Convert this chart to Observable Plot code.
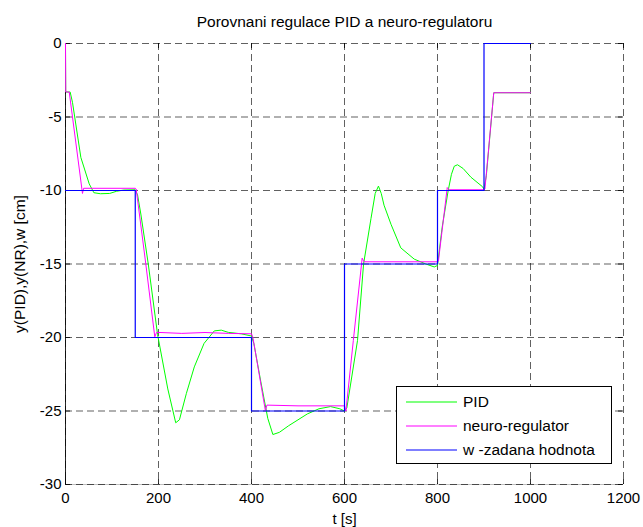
<!DOCTYPE html>
<html>
<head>
<meta charset="utf-8">
<script src="https://cdn.jsdelivr.net/npm/d3@7"></script>
<script src="https://cdn.jsdelivr.net/npm/@observablehq/plot@0.6"></script>
<style>
  html, body { margin: 0; padding: 0; background: #fff; }
  #wrap { position: relative; width: 643px; height: 527px; font-family: "Liberation Sans", Arial, sans-serif; }
  #legend { position: absolute; left: 396px; top: 386px; }
</style>
</head>
<body>
<div id="wrap"></div>
<script>
// ---- data ----
const titleText = "Porovnani regulace PID a neuro-regulatoru";
const xLabel = "t [s]";
const yLabel = "y(PID),y(NR),w [cm]";
const xTicks = [0, 200, 400, 600, 800, 1000, 1200];
const yTicks = [0, -5, -10, -15, -20, -25, -30];
const seriesNames = ["PID", "neuro-regulator", "w -zadana hodnota"];
const seriesColors = ["#00ff00", "#ff00ff", "#0000ff"];

// setpoint w
const wT = [0, 150, 150, 400, 400, 600, 600, 800, 800, 900, 900, 1000];
const wY = [-10, -10, -20, -20, -25, -25, -15, -15, -10, -10, 0, 0];

// neuro-regulator
const nrT = [0, 0.5, 8, 36.5, 39, 150, 152, 172.7, 192, 196, 250, 300, 350, 400, 403, 430, 433, 500, 600, 603, 619, 638, 642, 700, 800, 802, 821, 825, 900, 902, 921, 1000];
const nrY = [0, -3.3, -3.3, -10.2, -9.85, -9.85, -9.9, -15, -19.95, -19.65, -19.72, -19.66, -19.72, -19.75, -20.0, -25.0, -24.6, -24.65, -24.65, -25.0, -20.2, -14.6, -14.85, -14.85, -14.85, -14.8, -9.8, -9.95, -9.95, -9.9, -3.35, -3.35];

// PID
const pidT = [0, 0.5, 10, 15, 33, 51, 61, 75, 95, 110, 125, 150, 155, 162, 178, 198, 220, 237, 245, 260, 277, 298, 320, 335, 350, 378, 400, 405, 420, 435, 446, 460, 480, 500, 520, 545, 570, 590, 600, 605, 628, 641, 657, 666, 673, 679, 685, 700, 721, 750, 775, 793, 800, 810, 823, 830, 836, 843, 855, 872, 897, 900, 905, 921, 1000];
const pidY = [0, -3.3, -3.3, -4.0, -7.75, -9.55, -10.15, -10.22, -10.2, -10.05, -9.97, -9.95, -10.3, -11.6, -15, -19.8, -23.5, -25.8, -25.6, -23.8, -22.0, -20.4, -19.55, -19.5, -19.65, -19.75, -19.9, -20.4, -23.0, -25.5, -26.6, -26.45, -26.0, -25.6, -25.2, -24.85, -24.7, -24.85, -25.0, -24.8, -20.2, -15.0, -11.9, -10.2, -9.7, -10.2, -11.0, -12.3, -13.9, -14.67, -15.0, -15.2, -15.1, -12.5, -10.0, -8.9, -8.35, -8.25, -8.5, -9.1, -9.75, -9.9, -9.0, -3.35, -3.35];

const toRows = (ts, ys) => ts.map((t, i) => ({t, v: ys[i]}));
const pid = toRows(pidT, pidY);
const nr = toRows(nrT, nrY);
const w = toRows(wT, wY);

const frameW = 643 - 65 - 20, frameH = 527 - 43 - 43, tk = 5;
const fmt = d => String(d);

const chart = Plot.plot({
  width: 643,
  height: 527,
  marginTop: 43, marginBottom: 43, marginLeft: 65, marginRight: 20,
  style: {fontFamily: "'Liberation Sans', Arial, sans-serif", fontSize: "15px", color: "#000", background: "#fff"},
  x: {domain: [0, 1200], label: null},
  y: {domain: [-30, 0], label: null},
  marks: [
    Plot.ruleY([-30], {stroke: "#000", strokeOpacity: 0.25}),
    Plot.gridX(xTicks, {stroke: "#000", strokeOpacity: 0.62, strokeDasharray: "7,4"}),
    Plot.gridY(yTicks, {stroke: "#000", strokeOpacity: 0.62, strokeDasharray: "7,4"}),
    Plot.ruleX([0], {stroke: "#000", strokeOpacity: 0.85}),
    Plot.tickX(xTicks, {x: d => d, stroke: "#000", strokeOpacity: 0.8, insetTop: frameH - tk}),
    Plot.tickX(xTicks, {x: d => d, stroke: "#000", strokeOpacity: 0.8, insetBottom: frameH - tk}),
    Plot.tickY(yTicks, {y: d => d, stroke: "#000", strokeOpacity: 0.8, insetRight: frameW - tk}),
    Plot.tickY(yTicks, {y: d => d, stroke: "#000", strokeOpacity: 0.8, insetLeft: frameW - tk}),
    Plot.line(pid, {x: "t", y: "v", stroke: seriesColors[0], strokeWidth: 1}),
    Plot.line(nr, {x: "t", y: "v", stroke: seriesColors[1], strokeWidth: 1}),
    Plot.line(w, {x: "t", y: "v", stroke: seriesColors[2], strokeWidth: 1.2}),
    Plot.axisX(xTicks, {tickSize: 0, tickPadding: 8, fontSize: 15, tickFormat: fmt}),
    Plot.axisY(yTicks, {tickSize: 0, tickPadding: 4, fontSize: 15, tickFormat: fmt}),
    Plot.text([titleText], {frameAnchor: "top", lineAnchor: "middle", dy: -21, fontSize: 15.5}),
    Plot.text([xLabel], {frameAnchor: "bottom", lineAnchor: "middle", dy: 35, fontSize: 15}),
    Plot.text([yLabel], {frameAnchor: "left", textAnchor: "middle", lineAnchor: "middle", dx: -45, rotate: -90, fontSize: 15.5})
  ]
});

const wrap = document.getElementById("wrap");
wrap.appendChild(chart);

// legend as a small SVG overlay
const NS = "http://www.w3.org/2000/svg";
const lg = document.createElementNS(NS, "svg");
lg.setAttribute("id", "legend");
lg.setAttribute("width", 216);
lg.setAttribute("height", 78);
const box = document.createElementNS(NS, "rect");
box.setAttribute("x", 0.5); box.setAttribute("y", 0.5);
box.setAttribute("width", 215); box.setAttribute("height", 77);
box.setAttribute("fill", "#fff"); box.setAttribute("stroke", "#000");
lg.appendChild(box);
const rowY = [16, 40, 64];
seriesNames.forEach((name, i) => {
  const ln = document.createElementNS(NS, "line");
  ln.setAttribute("x1", 10); ln.setAttribute("x2", 61);
  ln.setAttribute("y1", rowY[i]); ln.setAttribute("y2", rowY[i]);
  ln.setAttribute("stroke", seriesColors[i]); ln.setAttribute("stroke-width", 1.2);
  lg.appendChild(ln);
  const tx = document.createElementNS(NS, "text");
  tx.setAttribute("x", 67); tx.setAttribute("y", rowY[i] - 0.5);
  tx.setAttribute("dy", "0.35em");
  tx.setAttribute("font-size", "15.5px");
  tx.setAttribute("font-family", "'Liberation Sans', Arial, sans-serif");
  tx.setAttribute("fill", "#000");
  tx.textContent = name;
  lg.appendChild(tx);
});
wrap.appendChild(lg);
</script>
</body>
</html>
